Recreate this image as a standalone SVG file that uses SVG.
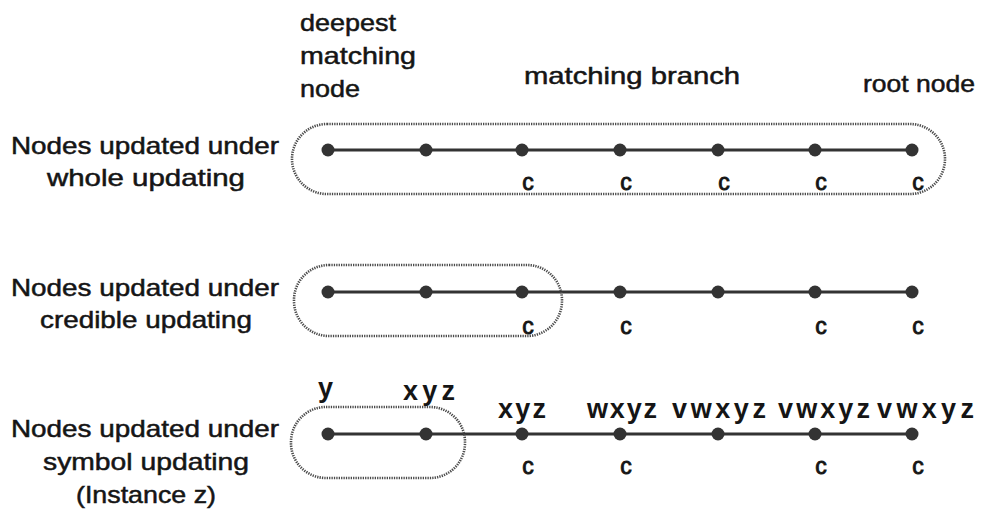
<svg xmlns="http://www.w3.org/2000/svg" width="989" height="513" viewBox="0 0 989 513">
<style>
text{font-family:"Liberation Sans",Arial,sans-serif;font-size:24px;fill:#151515;stroke:#151515;stroke-width:0.5}
.lbl{text-anchor:middle}
.c{text-anchor:middle;font-size:23px;stroke-width:0.9}
.sym{font-size:27px;font-weight:bold;stroke-width:0}
.dot{fill:#333}
.edge{stroke:#333;stroke-width:3;fill:none}
.hull{fill:none;stroke:#4a4a4a;stroke-width:2.6;stroke-dasharray:1.3 1.1}
</style>
<rect width="989" height="513" fill="#fff"/>
<g id="headers">
<text x="300" y="31" textLength="96" lengthAdjust="spacingAndGlyphs">deepest</text>
<text x="300" y="64" textLength="116" lengthAdjust="spacingAndGlyphs">matching</text>
<text x="300" y="97" textLength="60" lengthAdjust="spacingAndGlyphs">node</text>
<text x="524" y="84" textLength="216" lengthAdjust="spacingAndGlyphs">matching branch</text>
<text x="863" y="92" textLength="112" lengthAdjust="spacingAndGlyphs">root node</text>
</g>
<g id="row-labels">
<text class="lbl" x="145" y="154" textLength="268" lengthAdjust="spacingAndGlyphs">Nodes updated under</text>
<text class="lbl" x="146" y="186" textLength="198" lengthAdjust="spacingAndGlyphs">whole updating</text>
<text class="lbl" x="145" y="296" textLength="268" lengthAdjust="spacingAndGlyphs">Nodes updated under</text>
<text class="lbl" x="146" y="328" textLength="212" lengthAdjust="spacingAndGlyphs">credible updating</text>
<text class="lbl" x="145" y="437" textLength="268" lengthAdjust="spacingAndGlyphs">Nodes updated under</text>
<text class="lbl" x="146" y="470" textLength="206" lengthAdjust="spacingAndGlyphs">symbol updating</text>
<text class="lbl" x="146" y="503" textLength="140" lengthAdjust="spacingAndGlyphs">(Instance z)</text>
</g>
<g id="connectors">
<line class="edge" x1="328" y1="150" x2="912" y2="150"/>
<line class="edge" x1="328" y1="292" x2="912" y2="292"/>
<line class="edge" x1="328" y1="434" x2="912" y2="434"/>
</g>
<g id="hulls">
<rect id="hull-whole" class="hull" x="292" y="124" width="653" height="70" rx="35"/>
<rect id="hull-credible" class="hull" x="294" y="265" width="268" height="71" rx="35"/>
<rect id="hull-symbol" class="hull" x="291" y="407" width="174" height="71" rx="35"/>
</g>
<g id="row1">
<g id="r1n1"><circle class="dot" cx="328" cy="150" r="6.5"/></g>
<g id="r1n2"><circle class="dot" cx="426" cy="150" r="6.5"/></g>
<g id="r1n3"><circle class="dot" cx="522" cy="150" r="6.5"/><text class="c" x="528" y="190">c</text></g>
<g id="r1n4"><circle class="dot" cx="620" cy="150" r="6.5"/><text class="c" x="626" y="190">c</text></g>
<g id="r1n5"><circle class="dot" cx="718" cy="150" r="6.5"/><text class="c" x="724" y="190">c</text></g>
<g id="r1n6"><circle class="dot" cx="815" cy="150" r="6.5"/><text class="c" x="821" y="190">c</text></g>
<g id="r1n7"><circle class="dot" cx="912" cy="150" r="6.5"/><text class="c" x="918" y="190">c</text></g>
</g>
<g id="row2">
<g id="r2n1"><circle class="dot" cx="328" cy="292" r="6.5"/></g>
<g id="r2n2"><circle class="dot" cx="426" cy="292" r="6.5"/></g>
<g id="r2n3"><circle class="dot" cx="522" cy="292" r="6.5"/><text class="c" x="528" y="334">c</text></g>
<g id="r2n4"><circle class="dot" cx="620" cy="292" r="6.5"/><text class="c" x="626" y="334">c</text></g>
<g id="r2n5"><circle class="dot" cx="718" cy="292" r="6.5"/></g>
<g id="r2n6"><circle class="dot" cx="815" cy="292" r="6.5"/><text class="c" x="821" y="334">c</text></g>
<g id="r2n7"><circle class="dot" cx="912" cy="292" r="6.5"/><text class="c" x="918" y="334">c</text></g>
</g>
<g id="row3">
<g id="r3n1"><circle class="dot" cx="328" cy="434" r="6.5"/><text class="sym" x="318" y="397">y</text></g>
<g id="r3n2"><circle class="dot" cx="426" cy="434" r="6.5"/><text class="sym" x="403" y="400" textLength="52" lengthAdjust="spacing">xyz</text></g>
<g id="r3n3"><circle class="dot" cx="522" cy="434" r="6.5"/><text class="sym" x="498" y="418" textLength="48" lengthAdjust="spacing">xyz</text><text class="c" x="528" y="474">c</text></g>
<g id="r3n4"><circle class="dot" cx="620" cy="434" r="6.5"/><text class="sym" x="587" y="418" textLength="70" lengthAdjust="spacing">wxyz</text><text class="c" x="626" y="474">c</text></g>
<g id="r3n5"><circle class="dot" cx="718" cy="434" r="6.5"/><text class="sym" x="672" y="418" textLength="94" lengthAdjust="spacing">vwxyz</text></g>
<g id="r3n6"><circle class="dot" cx="815" cy="434" r="6.5"/><text class="sym" x="778" y="418" textLength="92" lengthAdjust="spacing">vwxyz</text><text class="c" x="821" y="474">c</text></g>
<g id="r3n7"><circle class="dot" cx="912" cy="434" r="6.5"/><text class="sym" x="877" y="418" textLength="97" lengthAdjust="spacing">vwxyz</text><text class="c" x="918" y="474">c</text></g>
</g>
</svg>
